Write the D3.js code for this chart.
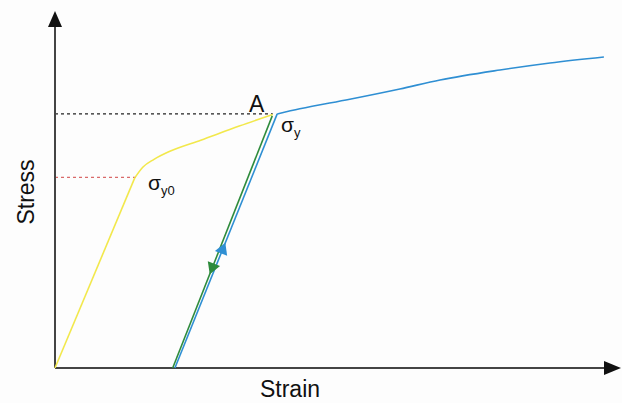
<!DOCTYPE html>
<html>
<head>
<meta charset="utf-8">
<script src="https://cdn.jsdelivr.net/npm/d3@7"></script>
<style>
  body { margin: 0; background: #fdfdfd; }
  svg { display: block; font-family: "Liberation Sans", Arial, sans-serif; }
</style>
</head>
<body>
<svg id="chart"></svg>
<script>
// Curves as [strain, stress] pairs (arbitrary units)
const elasticPart = [[0, 0], [1.45, 297]];
const plasticPart = [[1.45, 297], [1.6, 314], [1.8, 326], [2.1, 339], [2.65, 356], [3.35, 378], [3.96, 396]];
const hardening = [[4.04, 397], [4.45, 405], [5.36, 420], [6.27, 436], [7.0, 450], [8.09, 465.6], [9.0, 476.6], [9.98, 486]];
const unloading = [[3.95, 394], [2.14, 0]];
const reloading = [[2.18, 0], [4.04, 397]];
const yieldLevels = [{ stress: 397, strain: 3.96, color: "#222" }, { stress: 298, strain: 1.49, color: "#d96a6a" }];

const width = 622, height = 403;
const svg = d3.select("#chart").attr("width", width).attr("height", height);

const x = d3.scaleLinear().domain([0, 10]).range([55, 605]);
const y = d3.scaleLinear().domain([0, 500]).range([368, 48]);

const line = d3.line().x(d => x(d[0])).y(d => y(d[1]));
const smooth = d3.line().x(d => x(d[0])).y(d => y(d[1])).curve(d3.curveMonotoneX);

// dashed guide lines
svg.selectAll(".guide")
  .data(yieldLevels)
  .enter()
  .append("line")
  .attr("x1", x(0)).attr("x2", d => x(d.strain))
  .attr("y1", d => y(d.stress)).attr("y2", d => y(d.stress))
  .attr("stroke", d => d.color)
  .attr("stroke-width", 1.3)
  .attr("stroke-dasharray", "3,3");

// axes
const axisColor = "#444";
svg.append("line").attr("x1", x(0)).attr("x2", 608).attr("y1", y(0)).attr("y2", y(0))
  .attr("stroke", axisColor).attr("stroke-width", 2);
svg.append("line").attr("x1", x(0)).attr("x2", x(0)).attr("y1", y(0)).attr("y2", 24)
  .attr("stroke", axisColor).attr("stroke-width", 2);
svg.append("path").attr("d", `M${x(0) - 7},27 L${x(0)},11 L${x(0) + 7},27 Z`).attr("fill", "#111");
svg.append("path").attr("d", `M604,${y(0) - 7} L621,${y(0)} L604,${y(0) + 7} Z`).attr("fill", "#111");

// curves
const yellow = "#f2e84c", blue = "#2f8fd3", green = "#2e8b3c";
svg.append("path").datum(elasticPart).attr("d", line)
  .attr("fill", "none").attr("stroke", yellow).attr("stroke-width", 1.6);
svg.append("path").datum(plasticPart).attr("d", smooth)
  .attr("fill", "none").attr("stroke", yellow).attr("stroke-width", 1.6);
svg.append("path").datum(hardening).attr("d", smooth)
  .attr("fill", "none").attr("stroke", blue).attr("stroke-width", 1.6);
svg.append("path").datum(reloading).attr("d", line)
  .attr("fill", "none").attr("stroke", blue).attr("stroke-width", 1.6);
svg.append("path").datum(unloading).attr("d", line)
  .attr("fill", "none").attr("stroke", green).attr("stroke-width", 1.6);

// direction arrows on the elastic lines
function arrowAt(seg, t, color) {
  const x0 = x(seg[0][0]), y0 = y(seg[0][1]), x1 = x(seg[1][0]), y1 = y(seg[1][1]);
  const px = x0 + (x1 - x0) * t, py = y0 + (y1 - y0) * t;
  const angle = Math.atan2(y1 - y0, x1 - x0) * 180 / Math.PI + 90;
  svg.append("path")
    .attr("d", d3.symbol(d3.symbolTriangle, 75)())
    .attr("transform", `translate(${px},${py}) rotate(${angle})`)
    .attr("fill", color);
}
arrowAt(reloading, 0.465, blue);
arrowAt(unloading, 0.6, green);

// labels
svg.append("text").attr("x", 249).attr("y", 112).attr("font-size", 23).attr("fill", "#111").text("A");
const sy = svg.append("text").attr("x", 281).attr("y", 132).attr("font-size", 21).attr("fill", "#111");
sy.append("tspan").text("σ");
sy.append("tspan").attr("dy", 5).attr("font-size", 13).text("y");
const sy0 = svg.append("text").attr("x", 148).attr("y", 190).attr("font-size", 21).attr("fill", "#111");
sy0.append("tspan").text("σ");
sy0.append("tspan").attr("dy", 5).attr("font-size", 13).text("y0");

svg.append("text").attr("x", 290).attr("y", 397).attr("text-anchor", "middle")
  .attr("font-size", 23).attr("fill", "#111").text("Strain");
svg.append("text").attr("transform", "translate(34,192) rotate(-90)").attr("text-anchor", "middle")
  .attr("font-size", 23).attr("fill", "#111").text("Stress");
</script>
</body>
</html>
